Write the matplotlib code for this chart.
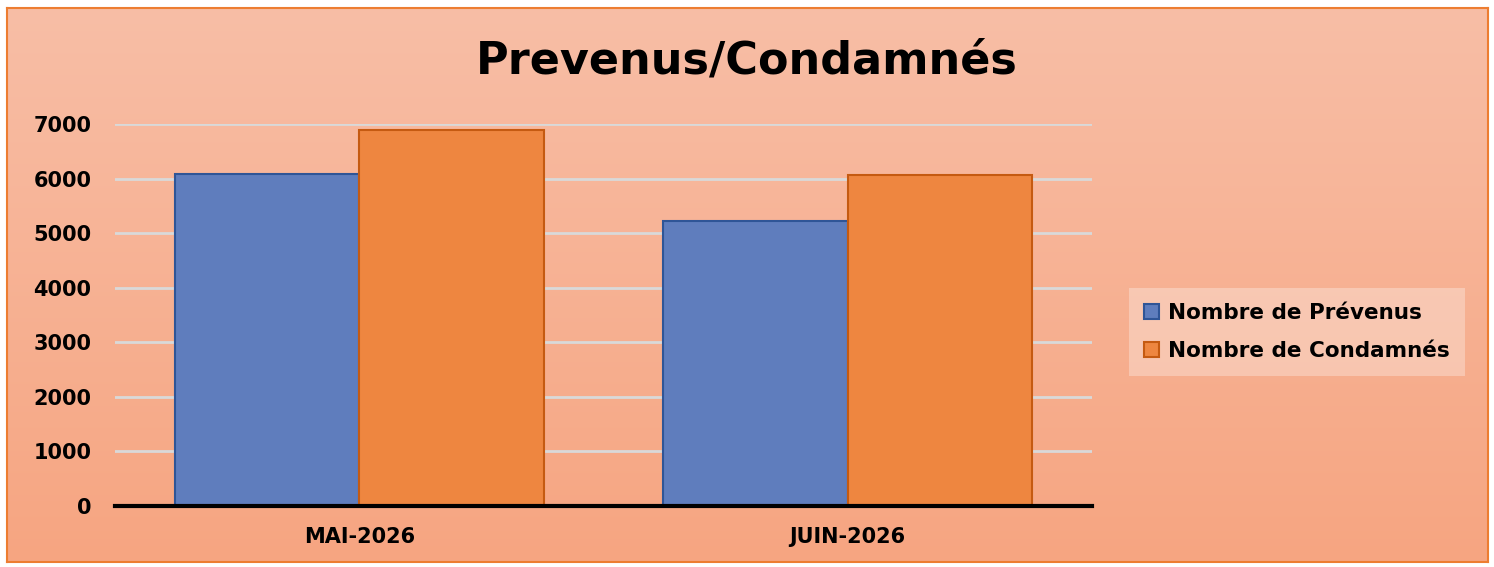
import numpy as np
import matplotlib.pyplot as plt

months = ["MAI-2026", "JUIN-2026"]
prevenus = [6080, 5220]
condamnes = [6890, 6065]
series_labels = ["Nombre de Prévenus", "Nombre de Condamnés"]
yticks = [0, 1000, 2000, 3000, 4000, 5000, 6000, 7000]

plt.rcParams['font.family'] = ['DejaVu Sans']

fig = plt.figure(figsize=(14.94, 5.67), dpi=100)
fig.patch.set_facecolor("white")

# gradient background inside the orange frame
bg = fig.add_axes([7 / 1494, 5 / 567, 1481 / 1494, 554 / 567], zorder=0)
top = np.array([248, 190, 166]) / 255
bottom = np.array([246, 165, 129]) / 255
t = np.linspace(0, 1, 256)[:, None]
grad = top + (bottom - top) * t
bg.imshow(grad[:, None, :].repeat(2, axis=1), aspect="auto", extent=[0, 1, 0, 1])
bg.set_xticks([])
bg.set_yticks([])
for s in bg.spines.values():
    s.set_color("#ED7D31")
    s.set_linewidth(1.5)

ax = fig.add_axes([115 / 1494, 61 / 567, 977 / 1494, 382 / 567], zorder=1)
ax.patch.set_alpha(0)

x = np.arange(len(months))
w = 0.378
ax.bar(x - w / 2, prevenus, w, color="#5F7DBD", edgecolor="#2F5597",
       linewidth=1.5, label=series_labels[0], zorder=3)
ax.bar(x + w / 2, condamnes, w, color="#EE8640", edgecolor="#C55A11",
       linewidth=1.5, label=series_labels[1], zorder=3)

ax.set_xlim(-0.5, 1.5)
ax.set_ylim(0, 7000)
ax.set_yticks(yticks)
ax.set_yticklabels([str(v) for v in yticks], fontsize=15, fontweight="bold")
ax.set_xticks(x)
ax.set_xticklabels(months, fontsize=15, fontweight="bold")
ax.tick_params(axis="both", length=0)
ax.tick_params(axis="y", pad=17)
ax.tick_params(axis="x", pad=15)
ax.grid(axis="y", color="#D9D9D9", linewidth=2, zorder=1)
ax.set_axisbelow(True)
for side in ["top", "right", "left"]:
    ax.spines[side].set_visible(False)
ax.spines["bottom"].set_linewidth(3)
ax.spines["bottom"].set_color("black")
ax.spines["bottom"].set_zorder(4)

fig.text(747 / 1494, 1 - 61 / 567, "Prevenus/Condamnés", ha="center", va="center",
         fontsize=32, fontweight="bold")

leg = ax.legend(loc="center left", bbox_to_anchor=(1129 / 1494, 1 - 332 / 567),
                bbox_transform=fig.transFigure, frameon=True, fancybox=False,
                prop={"size": 15.5, "weight": "bold"}, handlelength=0.7,
                handleheight=0.7, handletextpad=0.4, labelspacing=0.85,
                borderpad=0.7, borderaxespad=0, framealpha=0.3)
leg.get_frame().set_facecolor("white")
leg.get_frame().set_edgecolor("none")

fig.savefig("out.png", dpi=100)
